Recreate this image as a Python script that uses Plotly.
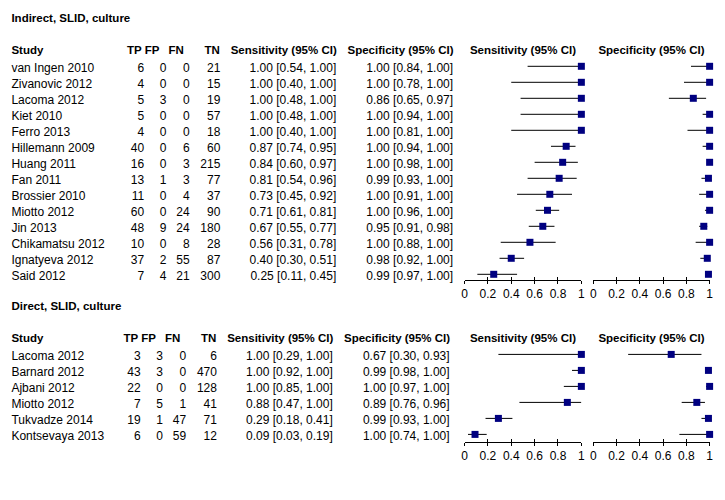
import plotly.graph_objects as go

# ---------------- data ----------------
top_title = "Indirect, SLID, culture"
top_studies = ["van Ingen 2010", "Zivanovic 2012", "Lacoma 2012", "Kiet 2010", "Ferro 2013",
               "Hillemann 2009", "Huang 2011", "Fan 2011", "Brossier 2010", "Miotto 2012",
               "Jin 2013", "Chikamatsu 2012", "Ignatyeva 2012", "Said 2012"]
top_tp = [6, 4, 5, 5, 4, 40, 16, 13, 11, 60, 48, 10, 37, 7]
top_fp = [0, 0, 3, 0, 0, 0, 0, 1, 0, 0, 9, 0, 2, 4]
top_fn = [0, 0, 0, 0, 0, 6, 3, 3, 4, 24, 24, 8, 55, 21]
top_tn = [21, 15, 19, 57, 18, 60, 215, 77, 37, 90, 180, 28, 87, 300]
top_sens = [1.00, 1.00, 1.00, 1.00, 1.00, 0.87, 0.84, 0.81, 0.73, 0.71, 0.67, 0.56, 0.40, 0.25]
top_sens_lo = [0.54, 0.40, 0.48, 0.48, 0.40, 0.74, 0.60, 0.54, 0.45, 0.61, 0.55, 0.31, 0.30, 0.11]
top_sens_hi = [1.00, 1.00, 1.00, 1.00, 1.00, 0.95, 0.97, 0.96, 0.92, 0.81, 0.77, 0.78, 0.51, 0.45]
top_spec = [1.00, 1.00, 0.86, 1.00, 1.00, 1.00, 1.00, 0.99, 1.00, 1.00, 0.95, 1.00, 0.98, 0.99]
top_spec_lo = [0.84, 0.78, 0.65, 0.94, 0.81, 0.94, 0.98, 0.93, 0.91, 0.96, 0.91, 0.88, 0.92, 0.97]
top_spec_hi = [1.00, 1.00, 0.97, 1.00, 1.00, 1.00, 1.00, 1.00, 1.00, 1.00, 0.98, 1.00, 1.00, 1.00]

bot_title = "Direct, SLID, culture"
bot_studies = ["Lacoma 2012", "Barnard 2012", "Ajbani 2012", "Miotto 2012", "Tukvadze 2014",
               "Kontsevaya 2013"]
bot_tp = [3, 43, 22, 7, 19, 6]
bot_fp = [3, 3, 0, 5, 1, 0]
bot_fn = [0, 0, 0, 1, 47, 59]
bot_tn = [6, 470, 128, 41, 71, 12]
bot_sens = [1.00, 1.00, 1.00, 0.88, 0.29, 0.09]
bot_sens_lo = [0.29, 0.92, 0.85, 0.47, 0.18, 0.03]
bot_sens_hi = [1.00, 1.00, 1.00, 1.00, 0.41, 0.19]
bot_spec = [0.67, 0.99, 1.00, 0.89, 0.99, 1.00]
bot_spec_lo = [0.30, 0.98, 0.97, 0.76, 0.93, 0.74]
bot_spec_hi = [0.93, 1.00, 1.00, 0.96, 1.00, 1.00]

col_headers = ["Study", "TP", "FP", "FN", "TN", "Sensitivity (95% CI)", "Specificity (95% CI)"]
plot_headers = ["Sensitivity (95% CI)", "Specificity (95% CI)"]
tick_vals = [0, 0.2, 0.4, 0.6, 0.8, 1]
tick_text = ["0", "0.2", "0.4", "0.6", "0.8", "1"]

# ---------------- styling / layout constants ----------------
W, H = 725, 500
FONT = "Liberation Sans, Arial, sans-serif"
REG = dict(family=FONT, size=12, color="black")
BOLD = dict(family=FONT, size=11.5, color="black", weight="bold")
NAVY = "#000080"
SENS_X0, SENS_X1 = 466, 584
SPEC_X0, SPEC_X1 = 596, 713.5
LEFT_X = 8.5

fig = go.Figure()


def fmt_ci(v, lo, hi):
    return [f"{a:.2f} [{b:.2f}, {c:.2f}]" for a, b, c in zip(v, lo, hi)]


def add_text(xs, ys, texts, pos, font):
    fig.add_trace(go.Scatter(x=xs, y=ys, text=texts, mode="text", textposition=pos,
                             textfont=font, xaxis="x", yaxis="y", hoverinfo="skip",
                             showlegend=False, cliponaxis=False))


def add_panel(title, title_y, header_y, row0_text, row0_mark, axis_line_y,
              studies, tp, fp, fn, tn, sens, slo, shi, spec, splo, sphi,
              cols_val, cols_head, ax_ids):
    n = len(studies)
    rows_y = [row0_text + 16 * i for i in range(n)]
    add_text([LEFT_X], [title_y], [f"<b>{title}</b>"], "middle right", BOLD)
    add_text([LEFT_X], [header_y], [f"<b>{col_headers[0]}</b>"], "middle right", BOLD)
    add_text(cols_head, [header_y] * len(cols_head),
             [f"<b>{h}</b>" for h in col_headers[1:]], "middle left", BOLD)
    add_text([(SENS_X0 + SENS_X1) / 2, (SPEC_X0 + SPEC_X1) / 2], [header_y] * 2,
             [f"<b>{h}</b>" for h in plot_headers], "middle center", BOLD)
    add_text([LEFT_X] * n, rows_y, studies, "middle right", REG)
    columns = [tp, fp, fn, tn, fmt_ci(sens, slo, shi), fmt_ci(spec, splo, sphi)]
    for cx, vals in zip(cols_val, columns):
        add_text([cx] * n, rows_y, [str(v) for v in vals], "middle left", REG)

    xs, xsp, yo = ax_ids
    rows = list(range(n))
    for xa, est, lo, hi in [(xs, sens, slo, shi), (xsp, spec, splo, sphi)]:
        lx, ly = [], []
        for i in rows:
            lx += [lo[i], hi[i], None]
            ly += [i, i, None]
        fig.add_trace(go.Scatter(x=lx, y=ly, mode="lines", line=dict(color="black", width=1),
                                 xaxis=xa, yaxis=yo, hoverinfo="skip", showlegend=False,
                                 cliponaxis=False))
        fig.add_trace(go.Scatter(x=est, y=rows, mode="markers",
                                 marker=dict(symbol="square", size=7, color=NAVY,
                                             line=dict(width=0)),
                                 xaxis=xa, yaxis=yo, showlegend=False, cliponaxis=False))

    y_bot = (axis_line_y - row0_mark) / 16
    top_px = row0_mark - 8
    dom = [(H - axis_line_y) / H, (H - top_px) / H]
    return dom, [y_bot, -0.5]


top_cols_val = [142.5, 165, 188.5, 219.5, 336.5, 454.5]
top_cols_head = [140, 158, 182.5, 219, 337, 455]
bot_cols_val = [c - 3.5 for c in top_cols_val]
bot_cols_head = [c - 3.5 for c in top_cols_head]

dom_t, rng_t = add_panel(top_title, 19, 51, 68.5, 66.3, 279.5,
                         top_studies, top_tp, top_fp, top_fn, top_tn,
                         top_sens, top_sens_lo, top_sens_hi,
                         top_spec, top_spec_lo, top_spec_hi,
                         top_cols_val, top_cols_head, ("x2", "x3", "y2"))
dom_b, rng_b = add_panel(bot_title, 307, 339, 356.6, 354.4, 441.8,
                         bot_studies, bot_tp, bot_fp, bot_fn, bot_tn,
                         bot_sens, bot_sens_lo, bot_sens_hi,
                         bot_spec, bot_spec_lo, bot_spec_hi,
                         bot_cols_val, bot_cols_head, ("x4", "x5", "y4"))

for xa, ya in [("x6", "y2"), ("x7", "y2"), ("x8", "y4"), ("x9", "y4")]:
    fig.add_trace(go.Scatter(x=[None], y=[None], xaxis=xa, yaxis=ya, showlegend=False,
                             hoverinfo="skip"))

sens_dom = [SENS_X0 / W, SENS_X1 / W]
spec_dom = [SPEC_X0 / W, SPEC_X1 / W]

base_x = dict(range=[0, 1], showgrid=False, zeroline=False, showline=True, linecolor="black",
              linewidth=1, ticks="outside", ticklen=3, tickwidth=1, tickcolor="black",
              tickvals=tick_vals, ticktext=tick_text, tickfont=REG, fixedrange=True)
over_x = dict(range=[0, 1], showgrid=False, zeroline=False, showline=False, ticks="inside",
              ticklen=3, tickwidth=1, tickcolor="black", tickvals=tick_vals,
              showticklabels=False, fixedrange=True)
hid_y = dict(visible=False, showgrid=False, zeroline=False, fixedrange=True)

fig.update_layout(
    width=W, height=H, margin=dict(l=0, r=0, t=0, b=0),
    paper_bgcolor="white", plot_bgcolor="rgba(0,0,0,0)", showlegend=False,
    xaxis=dict(domain=[0, 1], range=[0, W], visible=False, anchor="y", fixedrange=True),
    yaxis=dict(domain=[0, 1], range=[H, 0], visible=False, anchor="x", fixedrange=True),
    xaxis2=dict(domain=sens_dom, anchor="y2", **base_x),
    xaxis3=dict(domain=spec_dom, anchor="y2", **base_x),
    xaxis4=dict(domain=sens_dom, anchor="y4", **base_x),
    xaxis5=dict(domain=spec_dom, anchor="y4", **base_x),
    xaxis6=dict(overlaying="x2", anchor="y2", **over_x),
    xaxis7=dict(overlaying="x3", anchor="y2", **over_x),
    xaxis8=dict(overlaying="x4", anchor="y4", **over_x),
    xaxis9=dict(overlaying="x5", anchor="y4", **over_x),
    yaxis2=dict(domain=dom_t, range=rng_t, anchor="x2", **hid_y),
    yaxis4=dict(domain=dom_b, range=rng_b, anchor="x4", **hid_y),
)
fig.write_html("out.html", config={"displayModeBar": False},
               post_script="document.body.style.margin='0';")
